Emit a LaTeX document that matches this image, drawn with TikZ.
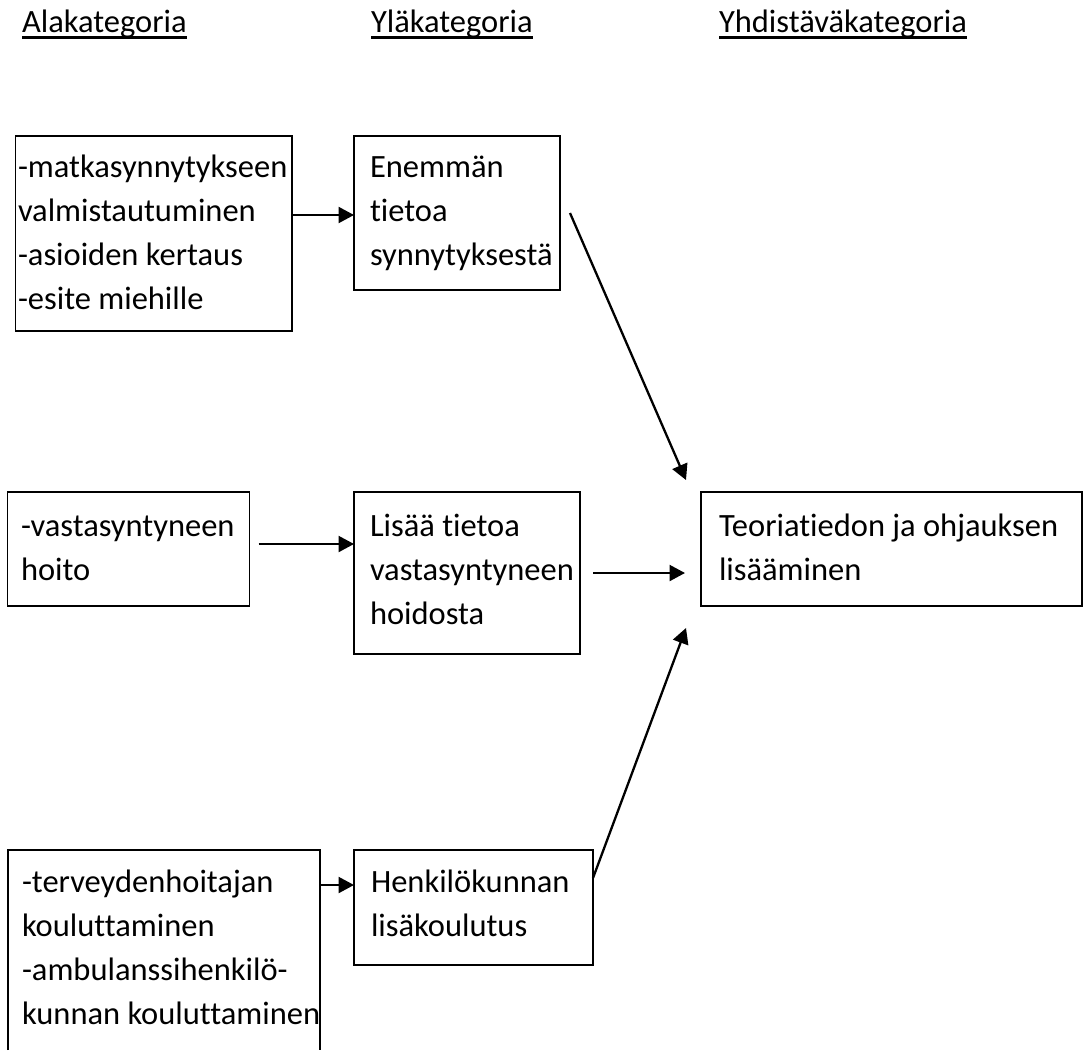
\documentclass[tikz,border=0pt]{standalone}
\usepackage{fontspec}
\setmainfont{Carlito}[Ligatures={NoCommon}]
\usetikzlibrary{arrows.meta}
\newcommand\topstrut{\rule{0pt}{30pt}}
\begin{document}
\begin{tikzpicture}[x=1pt,y=-1pt,
  box/.style={draw, line width=1.9pt, inner sep=0pt, outer sep=0pt, anchor=north west},
  txt/.style={anchor=north west, inner sep=0pt, outer sep=0pt, align=left, font=\fontsize{32.5}{44}\selectfont},
  head/.style={anchor=base west, inner sep=0pt, outer sep=0pt, font=\fontsize{32.5}{44}\selectfont},
  arr/.style={line width=2.3pt, -{Triangle[length=15.5pt,width=16pt]}},
  uline/.style={line width=3pt}]
\useasboundingbox (0,0) rectangle (1083,1050);

% headings
\node[head] (h1) at (22,32) {Alakategoria};
\node[head] (h2) at (371,32) {Yläkategoria};
\node[head] (h3) at (719,32) {Yhdistäväkategoria};
\foreach \h in {h1,h2,h3}
  \draw[uline] ([yshift=-5.5pt]\h.base west) -- ([yshift=-5.5pt]\h.base east);

% boxes
\node[box, minimum width=276.5pt, minimum height=195pt] (b1) at (15.5,136) {};
\node[box, minimum width=206pt, minimum height=154pt] (b2) at (354,136) {};
\node[box, minimum width=242pt, minimum height=114pt] (b3) at (7.5,492) {};
\node[box, minimum width=226pt, minimum height=162pt] (b4) at (354,492) {};
\node[box, minimum width=381pt, minimum height=114pt] (b5) at (701,492) {};
\node[box, draw=none, minimum width=312pt, minimum height=200pt] (b6) at (8,850) {};
\draw[line width=1.9pt] (b6.south west) -- (b6.north west) -- (b6.north east) -- (b6.south east);
\node[box, minimum width=239pt, minimum height=115pt] (b7) at (354,850) {};

% texts (first baseline = y + 30)
\node[txt] (t1) at (18,147) {\topstrut-matkasynnytykseen\\valmistautuminen\\-asioiden kertaus\\-esite miehille};
\node[txt] (t2) at (370,147) {\topstrut Enemmän\\tietoa\\synnytyksestä};
\node[txt] (t3) at (21,506) {\topstrut-vastasyntyneen\\hoito};
\node[txt] (t4) at (370,506) {\topstrut Lisää tietoa\\vastasyntyneen\\hoidosta};
\node[txt] (t5) at (719,506) {\topstrut Teoriatiedon ja ohjauksen\\lisääminen};
\node[txt] (t6) at (22,862) {\topstrut-terveydenhoitajan\\kouluttaminen\\-ambulanssihenkilö-\\kunnan kouluttaminen};
\node[txt] (t7) at (371,862) {\topstrut Henkilökunnan\\lisäkoulutus};

% connectors
\draw[arr] ([yshift=-2pt]b1.east |- b2.west) -- ([yshift=-2pt]b2.west);
\draw[arr] ([xshift=9pt,yshift=5pt]b3.east) -- ([yshift=5pt]b3.east -| b4.west);
\draw[arr, shorten <=13pt, shorten >=16pt] (b4.east) -- (b4.east -| b5.west);
\draw[arr] ([xshift=10pt]b2.east) -- ([xshift=-15pt,yshift=12pt]b5.north west);
\draw[arr] ([yshift=-28pt]b7.north east) -- ([xshift=-15pt,yshift=-22pt]b5.south west);
\draw[arr] ([yshift=-35pt]b7.north west -| b6.east) -- ([yshift=-35pt]b7.north west);
\end{tikzpicture}
\end{document}
